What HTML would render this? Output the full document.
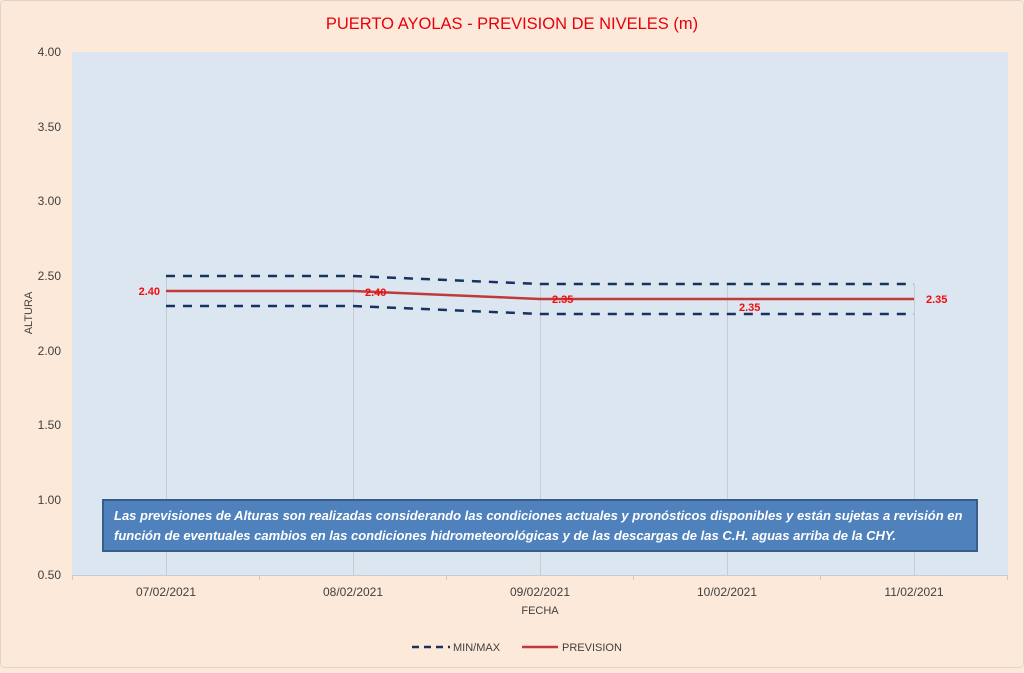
<!DOCTYPE html>
<html><head><meta charset="utf-8"><style>
body{margin:0;width:1024px;height:668px;background:#fde9d9;font-family:"Liberation Sans",sans-serif;overflow:hidden}
</style></head><body>
<svg width="1024" height="668" xmlns="http://www.w3.org/2000/svg" font-family="Liberation Sans, sans-serif">
<rect width="1024" height="668" fill="#fde9d9"/>
<rect x="0.5" y="0.5" width="1023" height="667" rx="4" fill="none" stroke="#e0d4ca"/>
<text x="512" y="29" text-anchor="middle" font-size="16.5" fill="#e8000b">PUERTO AYOLAS - PREVISION DE NIVELES (m)</text>
<rect x="72" y="52" width="936" height="523" fill="#dce6f1"/>
<g stroke="#c5ccd6" stroke-width="1">
<line x1="166.5" y1="276" x2="166.5" y2="575"/><line x1="353.5" y1="276" x2="353.5" y2="575"/>
<line x1="540.5" y1="284" x2="540.5" y2="575"/><line x1="727.5" y1="284" x2="727.5" y2="575"/>
<line x1="914.5" y1="284" x2="914.5" y2="575"/>
<line x1="72" y1="575.5" x2="1008" y2="575.5"/>
<line x1="72.5" y1="575" x2="72.5" y2="580"/><line x1="259.5" y1="575" x2="259.5" y2="580"/><line x1="446.5" y1="575" x2="446.5" y2="580"/><line x1="633.5" y1="575" x2="633.5" y2="580"/><line x1="820.5" y1="575" x2="820.5" y2="580"/><line x1="1007.5" y1="575" x2="1007.5" y2="580"/>
</g>
<g font-size="12" fill="#404040" text-anchor="end">
<text x="61" y="56">4.00</text><text x="61" y="131">3.50</text><text x="61" y="205">3.00</text><text x="61" y="280">2.50</text><text x="61" y="355">2.00</text><text x="61" y="429">1.50</text><text x="61" y="504">1.00</text><text x="61" y="579">0.50</text>
</g>
<g font-size="12" fill="#404040" text-anchor="middle">
<text x="166" y="596">07/02/2021</text><text x="353" y="596">08/02/2021</text><text x="540" y="596">09/02/2021</text><text x="727" y="596">10/02/2021</text><text x="914" y="596">11/02/2021</text>
<text x="540" y="614" font-size="11">FECHA</text>
</g>
<text transform="translate(32,313) rotate(-90)" text-anchor="middle" font-size="11" fill="#404040">ALTURA</text>
<g fill="none" stroke="#17325e" stroke-width="2.5" stroke-dasharray="9,8">
<polyline points="166,276 353,276 540,284 727,284 914,284"/>
<polyline points="166,306 353,306 540,314 727,314 914,314"/>
</g>
<polyline points="166,291 353,291 540,299 727,299 914,299" fill="none" stroke="#c0393b" stroke-width="2.5"/>
<g font-size="11" font-weight="bold" fill="#f20c0c">
<text x="160" y="295" text-anchor="end">2.40</text><text x="365" y="296">2.40</text><text x="552" y="303">2.35</text><text x="739" y="311">2.35</text><text x="926" y="303">2.35</text>
</g>
<rect x="103" y="500" width="874" height="51" fill="#4f81bd" stroke="#385d8a" stroke-width="2"/>
<g font-size="13" font-style="italic" font-weight="bold" fill="#fff">
<text x="114" y="520">Las previsiones de Alturas son realizadas considerando las condiciones actuales y pronósticos disponibles y están sujetas a revisión en</text>
<text x="114" y="540">función de eventuales cambios en las condiciones hidrometeorológicas y de las descargas de las C.H. aguas arriba de la CHY.</text>
</g>
<line x1="412" y1="647" x2="450" y2="647" stroke="#17325e" stroke-width="2.5" stroke-dasharray="7,5"/>
<text x="453" y="651" font-size="11" fill="#404040">MIN/MAX</text>
<line x1="522" y1="647" x2="558" y2="647" stroke="#c0393b" stroke-width="2.5"/>
<text x="562" y="651" font-size="11" fill="#404040">PREVISION</text>
</svg>
</body></html>
